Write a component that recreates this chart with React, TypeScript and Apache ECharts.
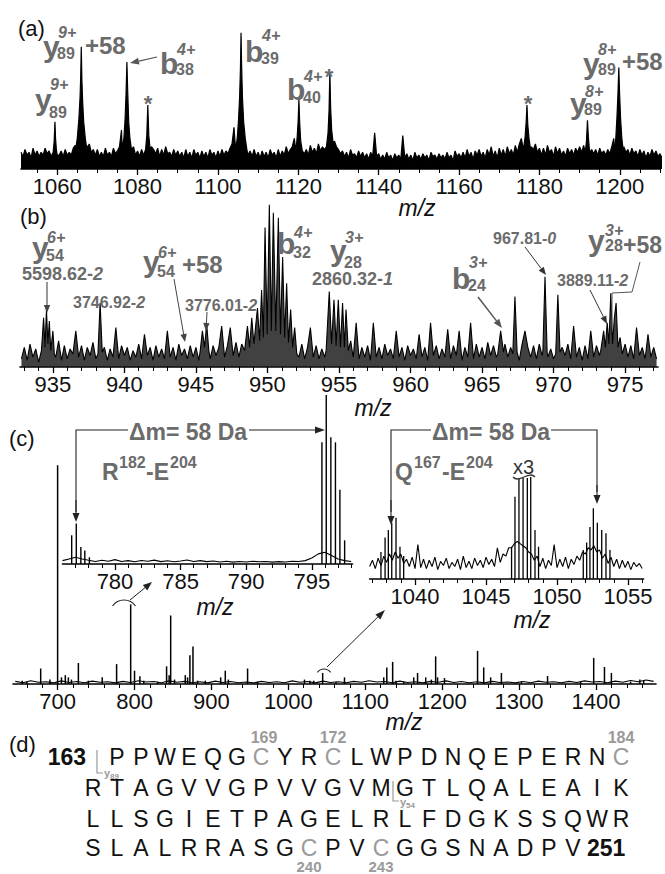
import React, { useEffect, useRef } from "react";
import * as echarts from "echarts";

// ---------------- DATA ----------------
// Panel (a): m/z 1051-1210
const aTickLabels = [1060, 1080, 1100, 1120, 1140, 1160, 1180, 1200];
const aNoiseStart = 1051;
const aNoiseStep = 0.5;
const aNoise = [
  12, 9, 14, 10, 12, 8, 15, 10, 13, 9, 12, 10, 15, 11, 13, 9, 15, 20, 13, 10,
  13, 9, 14, 10, 12, 10, 15, 17, 24, 40, 60, 38, 24, 16, 18, 12, 14, 10, 14, 9,
  12, 9, 15, 10, 12, 9, 15, 11, 13, 16, 28, 40, 22, 15, 14, 11, 16, 10, 13, 9,
  14, 10, 16, 18, 30, 16, 14, 11, 15, 9, 14, 10, 16, 11, 12, 9, 14, 10, 13, 9,
  12, 8, 14, 9, 12, 8, 14, 10, 12, 8, 13, 9, 12, 8, 14, 10, 12, 8, 13, 9,
  14, 10, 13, 11, 15, 18, 30, 40, 36, 20, 16, 12, 14, 10, 13, 9, 14, 9, 12, 8,
  13, 9, 12, 8, 14, 10, 12, 8, 14, 9, 13, 10, 16, 11, 14, 16, 22, 30, 18, 13,
  16, 11, 14, 10, 17, 12, 15, 11, 18, 13, 16, 14, 20, 28, 40, 30, 20, 16, 14, 11,
  13, 9, 12, 8, 14, 10, 11, 8, 13, 9, 12, 8, 11, 7, 12, 9, 26, 9, 11, 7,
  10, 7, 12, 8, 10, 6, 11, 8, 10, 7, 24, 8, 11, 7, 10, 6, 12, 8, 10, 7,
  11, 8, 10, 6, 12, 9, 10, 7, 11, 8, 10, 7, 12, 8, 10, 6, 13, 9, 11, 8,
  12, 8, 14, 9, 12, 7, 13, 10, 14, 9, 12, 8, 14, 10, 16, 9, 13, 8, 15, 10,
  14, 9, 16, 11, 14, 10, 17, 12, 18, 22, 28, 30, 24, 18, 16, 14, 18, 12, 15, 10,
  15, 10, 17, 12, 14, 9, 16, 11, 15, 10, 13, 9, 15, 11, 14, 10, 15, 12, 16, 12,
  17, 20, 24, 18, 14, 11, 14, 10, 15, 11, 13, 10, 14, 11, 16, 22, 30, 40, 36, 20,
  16, 12, 14, 10, 15, 11, 13, 9, 14, 10, 13, 8, 12, 9, 14, 10, 13, 9, 11, 8,
];
const aY89z9 = [[1059.0, 12], [1059.25, 20], [1059.45, 34], [1059.6, 22], [1059.8, 14], [1060.0, 10]];
const aY89z9p58 = [[1064.6, 14], [1065.0, 22], [1065.4, 36], [1065.7, 52], [1065.85, 66], [1066.0, 88], [1066.15, 64], [1066.35, 48], [1066.6, 34], [1067.0, 22], [1067.4, 14]];
const aB38 = [[1076.2, 14], [1076.6, 22], [1076.9, 36], [1077.15, 55], [1077.35, 77], [1077.55, 56], [1077.8, 34], [1078.1, 22], [1078.5, 14]];
const aStar1 = [[1082.0, 14], [1082.3, 24], [1082.55, 46], [1082.8, 24], [1083.1, 15]];
const aB39 = [[1104.4, 14], [1104.8, 22], [1105.1, 34], [1105.4, 52], [1105.6, 72], [1105.75, 98], [1105.9, 74], [1106.1, 52], [1106.4, 34], [1106.8, 22], [1107.2, 14]];
const aB40 = [[1119.4, 13], [1119.7, 22], [1119.95, 34], [1120.15, 50], [1120.35, 33], [1120.6, 20], [1121.0, 13]];
const aStar2 = [[1127.0, 16], [1127.4, 26], [1127.65, 42], [1127.85, 70], [1128.05, 44], [1128.3, 28], [1128.7, 18]];
const aStar3 = [[1176.0, 14], [1176.4, 22], [1176.7, 34], [1176.9, 46], [1177.1, 32], [1177.4, 22], [1177.8, 14]];
const aY89z8 = [[1191.4, 12], [1191.7, 20], [1191.95, 35], [1192.2, 22], [1192.5, 12]];
const aY89z8p58 = [[1198.6, 12], [1199.0, 22], [1199.3, 38], [1199.55, 55], [1199.75, 73], [1199.95, 54], [1200.2, 36], [1200.5, 22], [1200.9, 12]];

// Panel (b): m/z 932.7-977.3
const bTickLabels = [935, 940, 945, 950, 955, 960, 965, 970, 975];
const bNoiseStart = 932.8;
const bNoiseStep = 0.2;
const bNoise = [
  5, 12, 4, 14, 6, 11, 3, 13, 7, 15,
  5, 12, 6, 16, 4, 13, 5, 11, 8, 22,
  6, 13, 4, 12, 7, 15, 5, 14, 6, 12,
  4, 11, 6, 24, 5, 13, 7, 12, 4, 10,
  6, 14, 5, 20, 7, 12, 4, 13, 6, 11,
  5, 22, 6, 12, 4, 14, 7, 11, 5, 13,
  6, 12, 4, 16, 8, 14, 5, 13, 7, 12,
  25, 6, 13, 24, 7, 15, 6, 14, 9, 18,
  12, 16, 14, 18, 15, 20, 16, 18, 14, 16,
  15, 18, 14, 16, 12, 9, 13, 6, 14, 5,
  12, 24, 6, 13, 5, 11, 6, 14, 8, 13,
  10, 14, 9, 12, 8, 11, 6, 27, 5, 12,
  6, 13, 4, 27, 6, 12, 5, 14, 7, 11,
  5, 22, 6, 12, 4, 13, 7, 11, 5, 20,
  6, 12, 4, 27, 7, 13, 5, 11, 6, 23,
  5, 13, 7, 22, 4, 12, 6, 27, 5, 14,
  6, 12, 5, 15, 7, 13, 6, 11, 8, 14,
  6, 12, 5, 13, 4, 14, 22, 12, 6, 13,
  5, 14, 7, 12, 6, 11, 5, 13, 6, 12,
  7, 14, 5, 25, 6, 12, 4, 13, 5, 22,
  6, 13, 7, 12, 9, 14, 12, 16, 13, 15,
  8, 14, 6, 13, 5, 24, 7, 12, 5, 20,
  6, 12, 5,
];
const bY54 = [[934.2, 10], [934.35, 30], [934.45, 12], [934.55, 35], [934.65, 14], [934.75, 28], [934.85, 10], [935.0, 22], [935.1, 8]];
const b3746 = [[938.15, 8], [938.3, 39], [938.45, 9]];
const b3776 = [[945.3, 10], [945.45, 22], [945.6, 12], [945.75, 26], [945.9, 10]];
const bB32 = [[948.4, 10], [948.6, 25], [948.75, 12], [948.9, 30], [949.05, 14], [949.3, 36], [949.45, 16], [949.59, 47], [949.71, 18], [949.83, 85], [949.98, 20], [950.13, 99], [950.27, 22], [950.41, 94], [950.58, 22], [950.76, 91], [950.91, 20], [951.06, 67], [951.2, 18], [951.34, 51], [951.47, 15], [951.62, 35], [951.76, 12], [951.9, 24], [952.05, 8]];
const bY28 = [[954.1, 10], [954.32, 46], [954.48, 14], [954.65, 41], [954.8, 13], [954.95, 41], [955.1, 12], [955.25, 39], [955.38, 12], [955.49, 35], [955.65, 10], [955.82, 16], [955.95, 8]];
const bB24 = [[966.1, 8], [966.3, 22], [966.5, 9]];
const b967a = [[967.15, 8], [967.3, 43], [967.45, 9]];
const b967 = [[969.25, 9], [969.4, 55], [969.55, 9]];
const b970 = [[970.15, 8], [970.3, 44], [970.45, 9]];
const b3889 = [[973.3, 10], [973.5, 22], [973.62, 12], [973.75, 27], [973.87, 14], [974.0, 45], [974.12, 14], [974.25, 30], [974.37, 39], [974.5, 12], [974.65, 18], [974.8, 8]];

// Panel (c) full spectrum
const cTickLabels = [700, 800, 900, 1000, 1100, 1200, 1300, 1400];
const cNoiseStart = 645;
const cNoiseStep = 10;
const cNoise = [
  1.2, 0.6, 1.5, 0.8, 1.0, 0.5, 1.4, 0.7, 1.1, 0.6,
  1.3, 0.8, 1.0, 0.5, 1.2, 0.7, 1.5, 0.9, 1.1, 0.6,
  1.4, 0.8, 1.2, 0.6, 1.0, 0.5, 1.3, 0.7, 1.1, 0.6,
  0.9, 0.5, 1.2, 0.7, 1.0, 0.6, 1.4, 0.8, 1.1, 0.5,
  1.3, 0.7, 1.0, 0.6, 1.2, 0.8, 1.5, 0.9, 1.1, 0.6,
  1.3, 0.7, 1.0, 0.5, 1.2, 0.8, 1.4, 0.7, 1.1, 0.6,
  1.0, 0.5, 1.2, 0.7, 0.9, 0.5, 1.1, 0.6, 1.3, 0.8,
  1.0, 0.6, 1.2, 0.7, 1.4, 0.9, 1.1, 0.6, 1.3, 0.8,
  1.6, 1.0, 1.8, 1.2,
];
const cPeaks = [
  [654, 1.5], [660, 1], [678, 7], [690, 2], [700, 99], [705, 3], [710, 4], [714, 3], [718, 2], [727, 9.5],
  [740, 1.5], [758, 3], [776.7, 9], [795, 36], [800, 6], [807, 3.5], [812, 1.5], [830, 1], [841.7, 8], [845, 4],
  [847, 31], [852, 2], [866, 4], [869, 3], [872, 13], [876, 17], [882, 1.5], [892, 1.5], [912, 3], [918, 6],
  [922, 2], [947, 7], [960, 1], [1021, 2], [1028, 1.5], [1033, 1.5], [1044.6, 5], [1062, 1], [1073, 3], [1124, 3],
  [1128, 7.5], [1135.6, 10], [1140, 1.5], [1150, 1], [1163, 3], [1168, 5], [1178.6, 3], [1186, 2], [1191.5, 12.5], [1194, 3],
  [1203, 2.7], [1246, 15], [1254, 7.5], [1263, 3], [1277, 5], [1303, 1], [1337, 3.6], [1380, 1], [1397, 11.8], [1411, 7.7],
  [1420, 5], [1445, 1], [1457, 2], [1462, 1.5],
];

// Inset left (R182-E204)
const lTickLabels = [780, 785, 790, 795];
const lNoiseStart = 776;
const lNoiseStep = 0.5;
const lNoise = [
  2.0, 3.0, 4.0, 3.0, 2.2, 1.5, 2.2, 1.6, 2.6, 1.5,
  2.0, 1.3, 2.1, 1.6, 2.3, 1.4, 1.9, 1.3, 1.8, 2.4,
  1.5, 2.0, 1.4, 1.8, 1.2, 1.6, 1.1, 1.5, 1.2, 1.6,
  1.3, 1.5, 1.1, 1.4, 1.2, 1.6, 1.5, 2.0, 3.5, 6.0,
  7.0, 5.0, 3.0, 2.0, 1.5,
];
const lPeaks = [[776.7, 17], [777.05, 24], [777.4, 10], [777.7, 8], [778.05, 4], [795.77, 72], [796.1, 100], [796.45, 75], [796.8, 72], [797.14, 44], [797.5, 14]];

// Inset right (Q167-E204)
const rTickLabels = [1040, 1045, 1050, 1055];
const rNoiseStart = 1036.8;
const rNoiseStep = 0.2;
const rNoise = [
  12, 18, 10, 20, 13, 22, 16, 24, 18, 26,
  20, 24, 15, 19, 12, 21, 10, 33, 11, 19,
  10, 18, 12, 21, 9, 17, 13, 20, 10, 16,
  12, 19, 9, 22, 11, 17, 10, 20, 13, 18,
  11, 21, 14, 19, 12, 30, 16, 24, 22, 30,
  30, 34, 36, 34, 32, 30, 26, 24, 18, 22,
  12, 20, 10, 18, 13, 33, 11, 19, 12, 21,
  10, 19, 14, 22, 18, 26, 24, 30, 28, 32,
  26, 28, 20, 24, 15, 21, 12, 19, 10, 18,
  11, 17, 9, 16, 12, 15, 10,
];
const rPeaks = [
  [1037.6, 26], [1037.89, 40], [1038.12, 47], [1038.36, 54], [1038.66, 59], [1038.94, 31], [1039.2, 22],
  [1046.8, 31], [1047.04, 79], [1047.32, 97], [1047.61, 97], [1047.91, 97], [1048.15, 98], [1048.45, 47], [1048.7, 31],
  [1051.85, 28], [1052.09, 35], [1052.32, 50], [1052.56, 68], [1052.84, 54], [1053.15, 47], [1053.45, 44], [1053.73, 28],
];

// Panel (d) sequence
const seqRows = ["PPWEQGCYRCLWPDNQEPERNC", "RTAGVVGPVVGVMGTLQALEAIK", "LLSGIETPAGELRLFDGKSSQWR", "SLALRRASGCPVCGGSNADPV"];
const seqGrey = [[6, 9, 21], [], [], [9, 12]];
const seqStartCol = [1, 0, 0, 0];

// ---------------- HELPERS ----------------
const FONT = '"Liberation Sans", Arial, Helvetica, sans-serif';
const GREY = "#6b6b6b";

function buildLine(start: number, step: number, noise: number[], clusters: number[][][]) {
  const spans = clusters.map((c) => [c[0][0], c[c.length - 1][0]]);
  const pts: number[][] = [];
  noise.forEach((v, i) => {
    const x = +(start + i * step).toFixed(3);
    if (!spans.some(([a, b]) => x >= a && x <= b)) pts.push([x, v]);
  });
  clusters.forEach((c) => c.forEach((p) => pts.push(p)));
  pts.sort((p, q) => p[0] - q[0]);
  return pts;
}
function noiseLine(start: number, step: number, noise: number[]) {
  return noise.map((v, i) => [+(start + i * step).toFixed(3), v]);
}
function rangeTicks(a: number, b: number, step: number, skip: number[]) {
  const out: number[] = [];
  for (let v = a; v <= b + 1e-9; v += step) {
    const r = +v.toFixed(3);
    if (!skip.includes(r)) out.push(r);
  }
  return out;
}

function T(text: string, x: number, y: number, o: any = {}) {
  const style: any = {
    text,
    fill: o.fill ?? "#111",
    fontSize: o.size ?? 22,
    fontFamily: FONT,
    fontWeight: o.bold ? "bold" : "normal",
    fontStyle: o.italic ? "italic" : "normal",
    align: o.align ?? "left",
    verticalAlign: "middle",
    textAlign: o.align ?? "left",
    textVerticalAlign: "middle",
  };
  if (o.rich) style.rich = o.rich;
  return { type: "text", x, y, silent: true, z: 50, style };
}
function ion(x: number, y: number, main: string, sub: string, sup: string, o: any = {}) {
  const isB = main === "b";
  const sdx = o.sdx ?? (isB ? 16 : 14);
  const pdx = o.pdx ?? (isB ? 17 : 15);
  const sdy = o.sdy ?? 9;
  const pdy = o.pdy ?? -13;
  return [
    T(main, x, y, { size: 30, bold: true, fill: GREY }),
    T(sub, x + sdx, y + sdy, { size: 16, bold: true, fill: GREY }),
    T(sup, x + pdx, y + pdy, { size: 16, bold: true, italic: true, fill: GREY }),
  ];
}
function mass(num: string, tail: string, x: number, y: number, size: number) {
  const base = { fontSize: size, fontFamily: FONT, fontWeight: "bold", fill: GREY, color: GREY };
  return T(`{n|${num}}{i|${tail}}`, x, y, {
    rich: { n: { ...base }, i: { ...base, fontStyle: "italic" } },
  });
}
function arrow(x1: number, y1: number, x2: number, y2: number, color = "#333", w = 1.1, head = 8, hw = 3.2) {
  const dx = x2 - x1, dy = y2 - y1, L = Math.hypot(dx, dy);
  const ux = dx / L, uy = dy / L;
  const bx = x2 - ux * head, by = y2 - uy * head;
  return [
    { type: "line", silent: true, z: 50, shape: { x1, y1, x2: bx, y2: by }, style: { stroke: color, lineWidth: w } },
    {
      type: "polygon", silent: true, z: 50,
      shape: { points: [[x2, y2], [bx - uy * hw, by + ux * hw], [bx + uy * hw, by - ux * hw]] },
      style: { fill: color },
    },
  ];
}
function pline(points: number[][], color = "#222", w = 1.1) {
  return { type: "polyline", silent: true, z: 50, shape: { points }, style: { stroke: color, lineWidth: w, fill: "none" } };
}

function axesFor(i: number, min: number, max: number, major: number[], minor: number[]) {
  return [
    {
      gridIndex: i, type: "value", min, max, position: "bottom",
      axisLine: { show: true, onZero: false, lineStyle: { color: "#000", width: 1.6 } },
      axisTick: { show: true, customValues: major, length: 6, lineStyle: { color: "#000", width: 1.3 } },
      axisLabel: {
        show: true, customValues: major, fontSize: 22, fontFamily: FONT, color: "#111", margin: 6,
        formatter: (v: number) => String(v),
      },
      splitLine: { show: false },
    },
    {
      gridIndex: i, type: "value", min, max, position: "bottom",
      axisLine: { show: false, onZero: false },
      axisTick: { show: true, customValues: minor, length: 4, lineStyle: { color: "#000", width: 1 } },
      axisLabel: { show: false },
      splitLine: { show: false },
    },
  ];
}

function buildOption() {
  const aData = buildLine(aNoiseStart, aNoiseStep, aNoise, [aY89z9, aY89z9p58, aB38, aStar1, aB39, aB40, aStar2, aStar3, aY89z8, aY89z8p58]);
  const bData = buildLine(bNoiseStart, bNoiseStep, bNoise, [bY54, b3746, b3776, bB32, bY28, bB24, b967a, b967, b970, b3889]);

  const grids = [
    { left: 21, top: 30, width: 639, height: 139 },
    { left: 20, top: 203, width: 638, height: 164 },
    { left: 13, top: 463, width: 643, height: 221 },
    { left: 62.5, top: 395, width: 290, height: 169 },
    { left: 369.6, top: 475, width: 274, height: 104 },
  ].map((g) => ({ ...g, containLabel: false, outerBoundsMode: "none" }));

  const xAxis = [
    ...axesFor(0, 1051, 1210, aTickLabels, rangeTicks(1055, 1210, 5, aTickLabels)),
    ...axesFor(1, 932.7, 977.3, bTickLabels, rangeTicks(933, 977, 1, bTickLabels)),
    ...axesFor(2, 642, 1478, cTickLabels, rangeTicks(660, 1470, 20, cTickLabels)),
    ...axesFor(3, 776, 798.1, lTickLabels, rangeTicks(777, 798, 1, lTickLabels)),
    ...axesFor(4, 1036.8, 1056.1, rTickLabels, rangeTicks(1037, 1056, 1, rTickLabels)),
  ];
  const yAxis = [0, 1, 2, 3, 4].map((i) => ({ gridIndex: i, type: "value", min: 0, max: 100, show: false }));

  const lineS = (i: number, data: number[][], w: number, areaOpacity = 0, areaColor = "#000") => ({
    type: "line", xAxisIndex: 2 * i, yAxisIndex: i, data, showSymbol: false, symbol: "none",
    lineStyle: { color: "#000", width: w },
    areaStyle: areaOpacity > 0 ? { color: areaColor, opacity: areaOpacity } : undefined,
    silent: true, clip: true,
  });
  const barS = (i: number, data: number[][], bw: number) => ({
    type: "bar", xAxisIndex: 2 * i, yAxisIndex: i, data, barWidth: bw,
    itemStyle: { color: "#000" }, silent: true,
  });

  const series = [
    lineS(0, aData, 1.2, 1),
    lineS(1, bData, 1.1, 0.8, "#111"),
    lineS(2, noiseLine(cNoiseStart, cNoiseStep, cNoise), 1.1),
    barS(2, cPeaks, 1.5),
    lineS(3, noiseLine(lNoiseStart, lNoiseStep, lNoise), 1.1),
    barS(3, lPeaks, 1.4),
    lineS(4, noiseLine(rNoiseStart, rNoiseStep, rNoise), 1.1),
    barS(4, rPeaks, 1.3),
  ];

  const g: any[] = [];
  // panel letters & m/z
  g.push(T("(a)", 18, 28), T("(b)", 20, 216), T("(c)", 9, 438), T("(d)", 9, 744));
  const mz = (x: number, y: number) => T("m/z", x, y, { italic: true, align: "center", size: 23 });
  g.push(mz(417, 208), mz(373, 408), mz(215, 607), mz(532, 620), mz(404, 722));

  // (a) annotations
  g.push(...ion(35, 99, "y", "89", "9+", { sdy: 13, pdy: -15 }));
  g.push(...ion(43, 46, "y", "89", "9+", { sdy: 7, pdy: -14 }));
  g.push(T("+58", 85, 45, { size: 24, bold: true, fill: GREY }));
  g.push(...ion(160, 63, "b", "38", "4+", { sdy: 6, pdy: -14 }));
  g.push(...arrow(157, 57, 130, 63, "#555", 1.2, 9, 3.5));
  g.push(...ion(245, 51, "b", "39", "4+", { sdy: 7, pdy: -16 }));
  g.push(...ion(287, 89, "b", "40", "4+", { sdy: 8, pdy: -13 }));
  g.push(...ion(570, 103, "y", "89", "8+", { sdy: 6, pdy: -12 }));
  g.push(...ion(583, 63, "y", "89", "8+", { sdy: 6, pdy: -14, sdx: 15, pdx: 15 }));
  g.push(T("+58", 622, 61, { size: 24, bold: true, fill: GREY }));
  const star = (x: number, y: number) => T("*", x, y, { size: 22, bold: true, fill: GREY, align: "center" });
  g.push(star(148, 103), star(329, 76), star(528, 103));

  // (b) annotations
  g.push(...ion(32, 247, "y", "54", "6+", { sdy: 8, pdy: -10 }));
  g.push(mass("5598.62-", "2", 22, 274, 18));
  g.push(...arrow(47, 282, 47, 313, "#444", 1.1));
  g.push(mass("3746.92-", "2", 73, 302, 16));
  g.push(...ion(143, 261, "y", "54", "6+", { sdy: 10, pdy: -9 }));
  g.push(T("+58", 182, 264, { size: 24, bold: true, fill: GREY }));
  g.push(...arrow(174, 279, 185, 342, "#444", 1));
  g.push(mass("3776.01-", "2", 185, 305, 16));
  g.push(...arrow(207, 312, 206, 331, "#444", 1));
  g.push(...ion(277, 243, "b", "32", "4+", { sdy: 9, pdy: -11 }));
  g.push(...ion(330, 250, "y", "28", "3+", { sdy: 12, pdy: -13 }));
  g.push(mass("2860.32-", "1", 312, 279, 18));
  g.push(...ion(452, 278, "b", "24", "3+", { sdy: 7, pdy: -16 }));
  g.push(...arrow(478, 297, 502, 328, "#555", 1.5, 9, 3.5));
  g.push(mass("967.81-", "0", 493, 238, 16));
  g.push(...arrow(525, 247, 546, 275, "#333", 1));
  g.push(mass("3889.11-", "2", 557, 280, 16));
  g.push(...arrow(590, 290, 607, 324, "#333", 1));
  g.push(...ion(588, 240, "y", "28", "3+", { sdx: 17, pdx: 17, sdy: 5, pdy: -10 }));
  g.push(T("+58", 623, 245, { size: 23, bold: true, fill: GREY }));
  g.push(pline([[640, 262], [632, 292], [612, 293], [612, 327]], "#555", 1));

  // (c) annotations
  g.push(pline([[76, 512], [76, 430], [128, 430]], "#222", 1.1));
  g.push(...arrow(76, 500, 76, 522, "#222", 1.1, 9, 3.5));
  g.push(...arrow(249, 430, 325, 430, "#222", 1.1, 10, 3.5));
  g.push(T("\u0394m= 58 Da", 188, 432, { size: 23, bold: true, fill: GREY, align: "center" }));
  g.push(T("R", 102, 472, { size: 23, bold: true, fill: GREY }), T("182", 119, 462, { size: 16, bold: true, fill: GREY }),
    T("-E", 146, 472, { size: 23, bold: true, fill: GREY }), T("204", 170, 462, { size: 16, bold: true, fill: GREY }));

  g.push(pline([[391, 512], [391, 430], [431, 430]], "#222", 1.1));
  g.push(...arrow(391, 500, 391, 525, "#222", 1.1, 9, 3.5));
  g.push(pline([[551, 430], [597, 430], [597, 492]], "#222", 1.1));
  g.push(...arrow(597, 485, 597, 504, "#222", 1.1, 9, 3.5));
  g.push(T("\u0394m= 58 Da", 491, 432, { size: 23, bold: true, fill: GREY, align: "center" }));
  g.push(T("Q", 395, 472, { size: 23, bold: true, fill: GREY }), T("167", 414, 462, { size: 16, bold: true, fill: GREY }),
    T("-E", 442, 472, { size: 23, bold: true, fill: GREY }), T("204", 466, 462, { size: 16, bold: true, fill: GREY }));
  g.push(T("x3", 513, 467, { size: 20, fill: "#333" }));
  g.push({ type: "bezierCurve", silent: true, z: 50, shape: { x1: 513, y1: 477, x2: 535, y2: 477, cpx1: 519, cpy1: 484, cpx2: 529, cpy2: 470 }, style: { stroke: "#333", lineWidth: 1.3, fill: "none" } });

  g.push({ type: "arc", silent: true, z: 50, shape: { cx: 124, cy: 614, r: 14, startAngle: -Math.PI / 2 - 0.96, endAngle: -Math.PI / 2 + 0.96, clockwise: true }, style: { stroke: "#222", lineWidth: 1.2, fill: "none" } });
  g.push(...arrow(130, 600, 152, 582, "#222", 1, 9, 3.5));
  g.push({ type: "arc", silent: true, z: 50, shape: { cx: 324, cy: 677, r: 8, startAngle: -Math.PI / 2 - 0.96, endAngle: -Math.PI / 2 + 0.96, clockwise: true }, style: { stroke: "#222", lineWidth: 1.1, fill: "none" } });
  g.push(...arrow(327, 667, 385, 610, "#222", 1, 10, 3.5));

  // (d) sequence
  const rowY = [757, 788, 819, 848];
  const col0 = 93, pitch = 24;
  seqRows.forEach((row, r) => {
    row.split("").forEach((ch, k) => {
      const grey = seqGrey[r].includes(k);
      g.push(T(ch, col0 + (seqStartCol[r] + k) * pitch, rowY[r], { size: 23, align: "center", fill: grey ? "#9a9a9a" : "#111" }));
    });
  });
  g.push(T("163", 86, 757, { size: 23, bold: true, align: "right" }));
  g.push(T("251", 587, 848, { size: 23, bold: true }));
  const num = (s: string, x: number, y: number, size = 16) => T(s, x, y, { size, bold: true, fill: "#9a9a9a", align: "center" });
  g.push(num("169", 264, 737), num("172", 333, 737), num("184", 621, 737), num("240", 309, 866, 15), num("243", 381, 866, 15));
  g.push(pline([[97, 750], [97, 773], [103, 773]], "#9a9a9a", 1.2));
  g.push(T("y", 104, 773, { size: 11, bold: true, fill: "#9a9a9a" }), T("89", 110, 776, { size: 8, bold: true, fill: "#9a9a9a" }));
  g.push(pline([[393, 781], [393, 801], [399, 801]], "#9a9a9a", 1.2));
  g.push(T("y", 400, 802, { size: 11, bold: true, fill: "#9a9a9a" }), T("54", 406, 805, { size: 8, bold: true, fill: "#9a9a9a" }));

  return {
    animation: false,
    backgroundColor: "#fff",
    textStyle: { fontFamily: FONT },
    grid: grids,
    xAxis,
    yAxis,
    series,
    graphic: { elements: g },
  };
}

export default function App() {
  const ref = useRef<HTMLDivElement>(null);
  useEffect(() => {
    document.body.style.margin = "0";
    if (!ref.current) return;
    const chart = echarts.init(ref.current, undefined, { renderer: "svg" });
    chart.setOption(buildOption() as any);
    return () => chart.dispose();
  }, []);
  return <div ref={ref} style={{ width: 665, height: 874, background: "#fff" }} />;
}
